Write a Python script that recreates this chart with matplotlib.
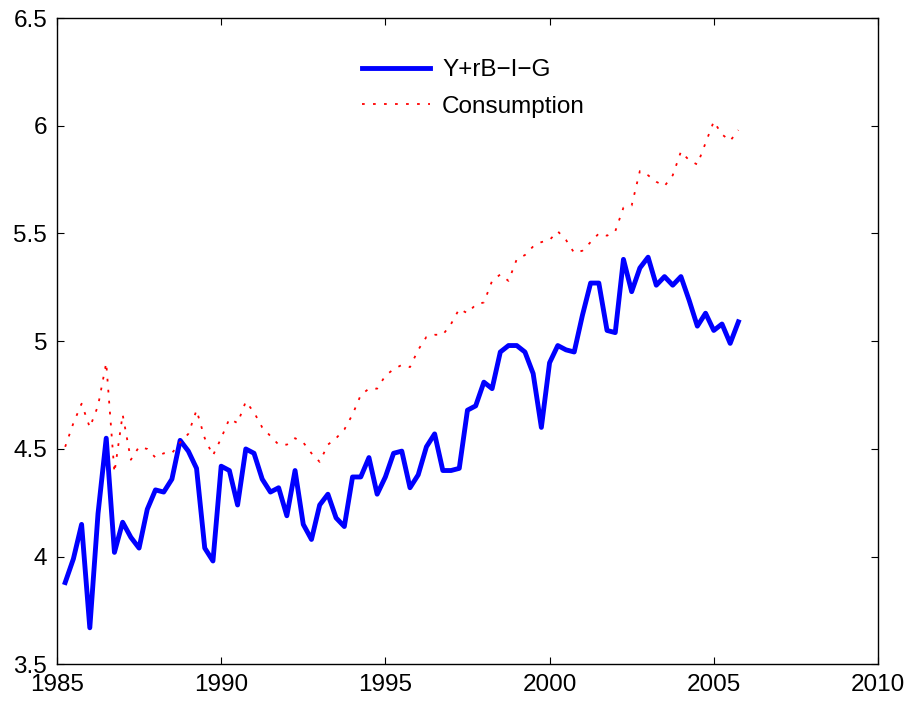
import numpy as np
import matplotlib
matplotlib.use('Agg')
import matplotlib.pyplot as plt
from matplotlib.ticker import FuncFormatter

plt.rcParams['font.family'] = ['Liberation Sans', 'DejaVu Sans']

# quarterly dates 1985Q2 .. 2005Q4
years = np.arange(1985.25, 2005.76, 0.25)

income = [3.88, 3.99, 4.15,
          3.67, 4.20, 4.55, 4.02,
          4.16, 4.09, 4.04, 4.22,
          4.31, 4.30, 4.36, 4.54,
          4.49, 4.41, 4.04, 3.98,
          4.42, 4.40, 4.24, 4.50,
          4.48, 4.36, 4.30, 4.32,
          4.19, 4.40, 4.15, 4.08,
          4.24, 4.29, 4.18, 4.14,
          4.37, 4.37, 4.46, 4.29,
          4.37, 4.48, 4.49, 4.32,
          4.38, 4.51, 4.57, 4.40,
          4.40, 4.41, 4.68, 4.70,
          4.81, 4.78, 4.95, 4.98,
          4.98, 4.95, 4.85, 4.60,
          4.90, 4.98, 4.96, 4.95,
          5.12, 5.27, 5.27, 5.05,
          5.04, 5.38, 5.23, 5.34,
          5.39, 5.26, 5.30, 5.26,
          5.30, 5.19, 5.07, 5.13,
          5.05, 5.08, 4.99, 5.09]

consumption = [4.51, 4.62, 4.71,
               4.60, 4.70, 4.90, 4.39,
               4.66, 4.45, 4.51, 4.50,
               4.46, 4.48, 4.48, 4.53,
               4.57, 4.68, 4.55, 4.47,
               4.55, 4.64, 4.62, 4.72,
               4.67, 4.60, 4.56, 4.52,
               4.52, 4.55, 4.53, 4.48,
               4.44, 4.52, 4.55, 4.59,
               4.66, 4.75, 4.78, 4.78,
               4.84, 4.87, 4.89, 4.88,
               4.96, 5.02, 5.03, 5.03,
               5.08, 5.15, 5.13, 5.17,
               5.18, 5.28, 5.31, 5.28,
               5.38, 5.40, 5.44, 5.46,
               5.47, 5.51, 5.47, 5.41,
               5.42, 5.46, 5.50, 5.49,
               5.51, 5.62, 5.63, 5.79,
               5.77, 5.74, 5.72, 5.77,
               5.88, 5.84, 5.82, 5.92,
               6.02, 5.96, 5.93, 5.98]

fig = plt.figure(figsize=(9.1, 7.04), dpi=100)
ax = fig.add_axes([0.0626, 0.0562, 0.9022, 0.9182])

ax.plot(years, income, color='#0000ff', lw=3.5, label='Y+rB\u2212I\u2212G')
ax.plot(years, consumption, color='#ff0000', lw=1.3, dashes=(1.5, 4.6),
        label='Consumption')

ax.set_xlim(1985, 2010)
ax.set_ylim(3.5, 6.5)
ax.set_xticks(np.arange(1985, 2011, 5))
ax.set_yticks(np.arange(3.5, 6.51, 0.5))
ax.yaxis.set_major_formatter(FuncFormatter(lambda v, p: f'{v:g}'))
ax.tick_params(direction='in', length=5, width=0.8, labelsize=17.5, pad=7,
               top=True, right=True)
for s in ax.spines.values():
    s.set_linewidth(1.0)

ax.legend(loc='upper left', bbox_to_anchor=(0.3715, 0.936), frameon=False,
          borderpad=0, borderaxespad=0,
          fontsize=17.5, handlelength=2.8, handletextpad=0.5, labelspacing=0.6)

fig.savefig('out.png', dpi=100)
